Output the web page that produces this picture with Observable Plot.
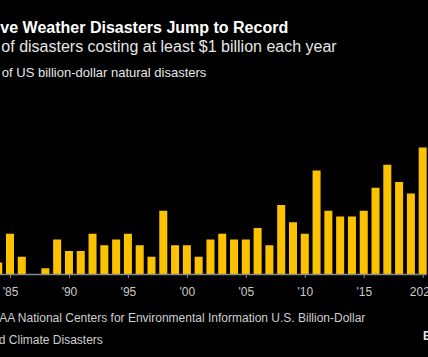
<!DOCTYPE html>
<html><head><meta charset="utf-8">
<script src="https://cdn.jsdelivr.net/npm/d3@7"></script>
<script src="https://cdn.jsdelivr.net/npm/@observablehq/plot@0.6"></script>
<style>
html,body{margin:0;padding:0;background:#000;overflow:hidden;width:428px;height:357px;}
#wrap{position:relative;width:428px;height:357px;overflow:hidden;background:#000;font-family:"Liberation Sans",Arial,sans-serif;}
.t{position:absolute;white-space:nowrap;}
#chart{position:absolute;left:-20px;top:100px;width:460px;height:200px;}
#chart svg{max-width:none !important;width:460px !important;height:200px !important;}
</style></head><body>
<div id="wrap">
  <div class="t" style="left:-61px;top:19.5px;font-size:16px;line-height:16px;font-weight:bold;color:#fff;">Expensive Weather Disasters Jump to Record</div>
  <div class="t" style="left:-60px;top:38.8px;font-size:16px;line-height:16px;color:#e6e6e6;">Number of disasters costing at least $1 billion each year</div>
  <div class="t" style="left:-48px;top:66.3px;font-size:13px;line-height:13px;color:#e6e6e6;">Number of US billion-dollar natural disasters</div>
  <div id="chart"></div>
  <div class="t" style="left:-63.5px;top:311.8px;font-size:12px;line-height:12px;color:#cfcfcf;">Source: NOAA National Centers for Environmental Information U.S. Billion-Dollar</div>
  <div class="t" style="left:-63px;top:334.3px;font-size:12px;line-height:12px;color:#cfcfcf;">Weather and Climate Disasters</div>
  <div class="t" style="left:423px;top:330.3px;font-size:12px;line-height:12px;font-weight:bold;color:#e6e6e6;">Bloomberg</div>
</div>
<script>
const years = [1984,1985,1986,1987,1988,1989,1990,1991,1992,1993,1994,1995,1996,1997,1998,1999,2000,2001,2002,2003,2004,2005,2006,2007,2008,2009,2010,2011,2012,2013,2014,2015,2016,2017,2018,2019,2020];
const counts = [2,7,3,0,1,6,4,4,7,5,6,7,5,3,11,5,5,3,6,7,6,6,8,5,12,9,7,18,11,10,10,11,15,19,16,14,22];
const tickYears = [1985,1990,1995,2000,2005,2010,2015,2020];
const tickLabels = ["'85","'90","'95","'00","'05","'10","'15","2020"];

const data = years.map((year, i) => ({year, count: counts[i]}));

const plot = Plot.plot({
  width: 460,
  height: 200,
  marginLeft: 14.2,
  marginRight: 13.3,
  marginTop: 47.5,
  marginBottom: 26,
  style: {background: "transparent", color: "#d0d0d0", fontFamily: "Liberation Sans, Arial, sans-serif", fontSize: "12px", overflow: "visible", maxWidth: "none"},
  x: {type: "band", domain: years, paddingInner: 0.32, paddingOuter: 0, align: 0.5, round: false, axis: null, label: null},
  y: {domain: [0, 22], axis: null},
  marks: [
    Plot.barY(data, {x: "year", y: "count", fill: "#fcc200"}),
    Plot.ruleY([0], {stroke: "#8a8a8a", strokeWidth: 1.5}),
    Plot.axisX({ticks: tickYears, tickFormat: (d) => tickLabels[tickYears.indexOf(d)], tickSize: 4, tickPadding: 9, stroke: "#8a8a8a", fill: "#cccccc", fontSize: 12, label: null})
  ]
});
document.getElementById("chart").appendChild(plot);
</script>
</body></html>
